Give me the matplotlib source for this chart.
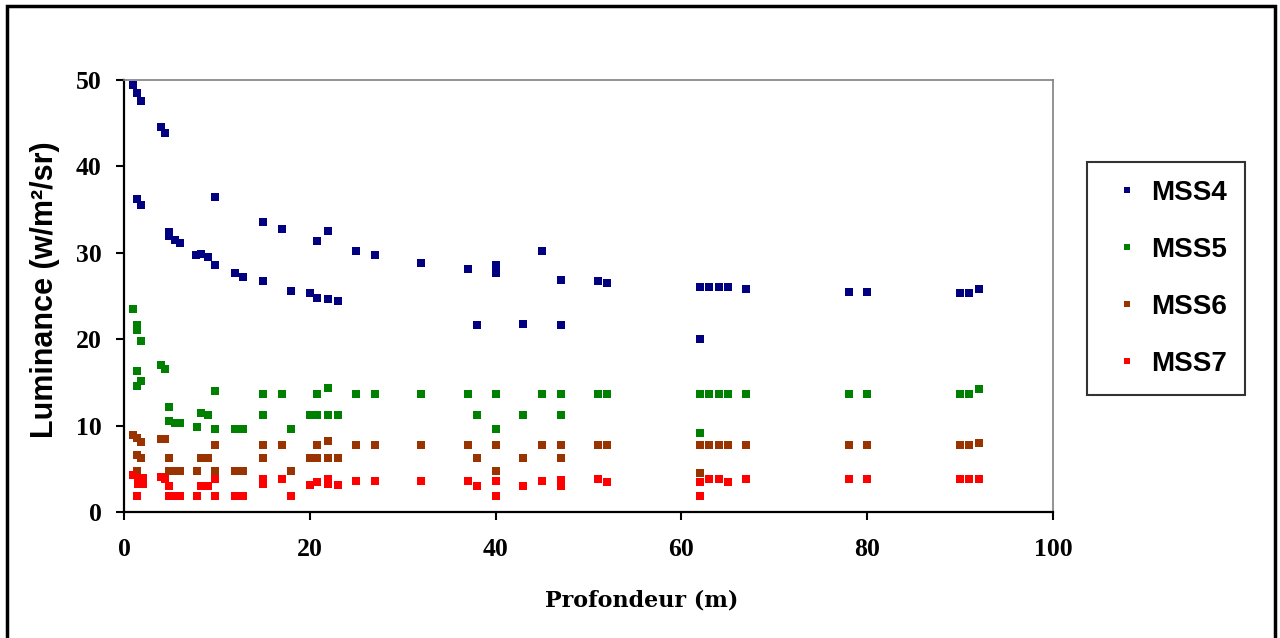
import matplotlib
matplotlib.use("Agg")
import matplotlib.pyplot as plt
from matplotlib.patches import Rectangle

# depth (m) / luminance (w/m2/sr) per band
x4 = [1, 1.4, 1.8, 4, 4.4, 1.4, 1.8, 9.8, 4.8, 4.8, 5.5, 6, 7.8, 8.3, 9, 9.8, 12, 12.8,
      15, 15, 17, 18, 20, 20.8, 20.8, 22, 22, 23, 25, 27, 32, 37, 40, 40, 45, 47, 38, 43, 47,
      51, 52, 62, 63, 64, 65, 67, 62, 78, 80, 90, 91, 92]
y4 = [49.4, 48.5, 47.6, 44.6, 43.9, 36.2, 35.5, 36.5, 32.4, 32.0, 31.5, 31.1, 29.7, 29.9, 29.5, 28.6, 27.7, 27.2,
      33.6, 26.7, 32.7, 25.6, 25.3, 31.4, 24.8, 32.5, 24.6, 24.4, 30.2, 29.7, 28.8, 28.1, 28.6, 27.7, 30.2, 26.9, 21.6, 21.8, 21.6,
      26.7, 26.5, 26.0, 26.0, 26.0, 26.0, 25.8, 20.0, 25.5, 25.5, 25.3, 25.3, 25.8]

x5 = [1, 1.4, 1.4, 1.8, 1.4, 1.4, 1.8, 4, 4.4, 4.8, 4.8, 5.5, 6, 7.9, 8.3, 9, 9.8, 9.8, 12, 12.8,
      15, 15, 17, 18, 20, 20.8, 20.8, 22, 22, 23, 25, 27, 32, 37, 38, 40, 40, 43, 45, 47, 47,
      51, 52, 62, 63, 64, 65, 67, 62, 78, 80, 90, 91, 92]
y5 = [23.5, 21.6, 21.1, 19.8, 16.3, 14.6, 15.2, 17.0, 16.5, 12.1, 10.5, 10.3, 10.3, 9.8, 11.5, 11.2, 14.0, 9.6, 9.6, 9.6,
      13.7, 11.2, 13.7, 9.6, 11.2, 11.2, 13.7, 14.4, 11.2, 11.2, 13.7, 13.7, 13.7, 13.7, 11.2, 13.7, 9.6, 11.2, 13.7, 13.7, 11.2,
      13.7, 13.7, 13.7, 13.7, 13.7, 13.7, 13.7, 9.1, 13.7, 13.7, 13.7, 13.7, 14.2]

x6 = [1, 1.4, 1.8, 1.4, 1.8, 1.4, 4, 4.4, 4.8, 4.8, 5.5, 6, 7.9, 8.3, 9, 9.8, 9.8, 12, 12.8,
      15, 15, 17, 18, 20, 20.8, 20.8, 22, 22, 23, 25, 27, 32, 37, 38, 40, 40, 43, 45, 47, 47,
      51, 52, 62, 63, 64, 65, 67, 62, 78, 80, 90, 91, 92]
y6 = [8.9, 8.6, 8.1, 6.6, 6.3, 4.7, 8.4, 8.4, 6.3, 4.7, 4.7, 4.7, 4.7, 6.3, 6.3, 7.7, 4.7, 4.7, 4.7,
      7.7, 6.3, 7.7, 4.7, 6.3, 6.3, 7.7, 8.2, 6.3, 6.3, 7.7, 7.7, 7.7, 7.7, 6.3, 7.7, 4.7, 6.3, 7.7, 7.7, 6.3,
      7.7, 7.7, 7.7, 7.7, 7.7, 7.7, 7.7, 4.5, 7.7, 7.7, 7.7, 7.7, 7.95]

x7 = [1, 1.5, 1.5, 2, 2, 1.4, 4, 4.4, 4.8, 4.8, 5.5, 6, 7.9, 8.3, 9, 9.8, 9.8, 12, 12.8,
      15, 15, 17, 18, 20, 20.8, 22, 22, 23, 25, 27, 32, 37, 38, 40, 40, 43, 45, 47, 47,
      51, 52, 62, 63, 64, 65, 67, 62, 78, 80, 90, 91, 92]
y7 = [4.3, 3.9, 3.2, 3.9, 3.2, 1.9, 4.0, 3.8, 3.0, 1.9, 1.9, 1.9, 1.9, 3.0, 3.0, 3.8, 1.9, 1.9, 1.9,
      3.8, 3.2, 3.8, 1.9, 3.1, 3.5, 3.8, 3.2, 3.1, 3.55, 3.55, 3.55, 3.55, 3.05, 3.55, 1.9, 3.05, 3.55, 3.7, 3.0,
      3.8, 3.5, 3.5, 3.8, 3.8, 3.5, 3.8, 1.9, 3.8, 3.8, 3.8, 3.8, 3.8]

labels = ["MSS4", "MSS5", "MSS6", "MSS7"]
colors = ["#000080", "#008000", "#993300", "#ff0000"]
xticks = [0, 20, 40, 60, 80, 100]
yticks = [0, 10, 20, 30, 40, 50]

fig = plt.figure(figsize=(12.8, 6.38), dpi=100)
ax = fig.add_axes([124 / 1280, 1 - 512 / 638, (1053 - 124) / 1280, (512 - 80) / 638])

for xs, ys, lab, c in zip([x4, x5, x6, x7], [y4, y5, y6, y7], labels, colors):
    ax.plot(xs, ys, ls="none", marker="s", ms=5.8, mew=0, color=c, label=lab, clip_on=False)

ax.set_xlim(0, 100)
ax.set_ylim(0, 50)
ax.set_xticks(xticks)
ax.set_yticks(yticks)
tickfont = {"family": "Liberation Serif", "weight": "bold", "size": 18.5}
ax.set_xticklabels([str(t) for t in xticks], fontdict=tickfont)
ax.set_yticklabels([str(t) for t in yticks], fontdict=tickfont)
ax.tick_params(axis="both", direction="out", length=6, width=1.5, color="black")
ax.tick_params(axis="x", pad=13)
ax.tick_params(axis="y", pad=10)

for s in ["left", "bottom"]:
    ax.spines[s].set_color("black")
    ax.spines[s].set_linewidth(1.6)
for s in ["top", "right"]:
    ax.spines[s].set_color("#808080")
    ax.spines[s].set_linewidth(1.2)

fig.text(45 / 1280, 1 - 290 / 638, "Luminance (w/m²/sr)", rotation=90, ha="center", va="center",
         family="Liberation Sans", weight="bold", size=22)
fig.text(642 / 1280, 1 - 600 / 638, "Profondeur (m)", ha="center", va="center",
         family="DejaVu Serif", weight="bold", size=16)

leg = fig.legend(loc="upper left", bbox_to_anchor=(1087 / 1280, 1 - 162 / 638),
                 prop={"family": "Liberation Sans", "weight": "bold", "size": 20},
                 markerscale=0.7, frameon=True, fancybox=False, edgecolor="black",
                 borderpad=0.65, labelspacing=1.11, handlelength=1.6, handletextpad=0.05,
                 borderaxespad=0)
leg.get_frame().set_linewidth(1.5)

fig.patches.append(Rectangle((7 / 1280, -0.01), 1268 / 1280, 1 - 6 / 638 + 0.01, transform=fig.transFigure,
                             fill=False, edgecolor="black", linewidth=2.5))

fig.savefig("out.png", dpi=100)
